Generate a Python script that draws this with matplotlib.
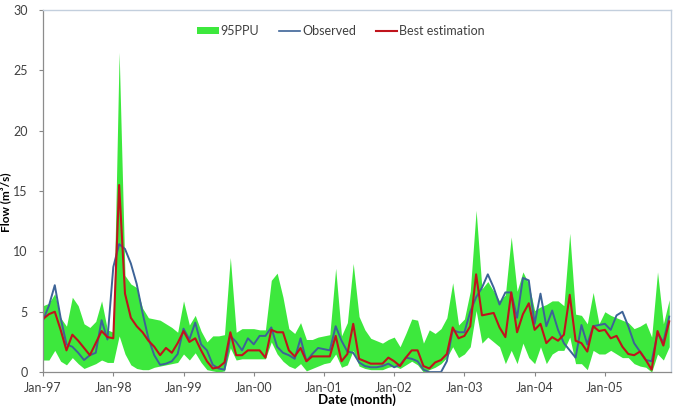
import numpy as np
import matplotlib.pyplot as plt
from matplotlib.patches import Patch
from matplotlib.lines import Line2D
plt.switch_backend('agg')

plt.rcParams['font.family'] = ['Lato', 'DejaVu Sans']

# monthly values, Jan-97 .. Dec-05
observed = [4.3, 5.5, 7.2, 4.5, 2.3, 2.1, 1.6, 1.0, 1.4, 1.6, 4.3, 2.7,
            8.7, 10.6, 10.2, 9.0, 7.3, 4.9, 2.8, 1.4, 0.6, 0.7, 0.9, 1.5,
            3.6, 2.7, 4.1, 2.3, 1.8, 0.6, 0.3, 0.2, 3.0, 2.5, 1.8, 2.8,
            2.3, 3.0, 3.0, 3.7, 2.1, 1.6, 1.4, 1.1, 2.8, 0.9, 1.5, 2.0,
            1.9, 1.8, 3.8, 2.6, 1.7, 1.6, 0.8, 0.5, 0.4, 0.4, 0.5, 0.7,
            0.4, 0.6, 1.2, 1.1, 0.9, 0.2, 0.0, 0.0, 0.0, 0.9, 3.5, 3.3,
            3.3, 5.0, 6.2, 7.0, 8.1, 7.0, 5.6, 6.6, 6.6, 4.5, 7.8, 7.6,
            4.0, 6.5, 3.8, 5.1, 3.5, 2.4, 1.8, 1.2, 3.9, 2.3, 3.8, 3.9,
            4.0, 3.5, 4.7, 5.0, 3.8, 2.4, 1.7, 1.0, 0.9, 3.2, 2.5, 4.6]

best = [4.4, 4.8, 5.0, 3.5, 1.8, 3.1, 2.6, 2.0, 1.4, 2.4, 3.4, 2.9,
        2.8, 15.5, 6.5, 4.5, 3.8, 3.3, 2.6, 2.1, 1.4, 2.0, 1.6, 2.4,
        3.4, 2.5, 2.8, 1.8, 0.9, 0.3, 0.4, 0.8, 3.3, 1.4, 1.4, 1.8,
        1.8, 1.8, 1.2, 3.5, 3.3, 3.3, 1.8, 1.3, 2.0, 0.9, 1.3, 1.3,
        1.3, 1.3, 3.0, 0.9, 1.5, 4.0, 1.1, 0.9, 0.7, 0.7, 0.7, 1.2,
        0.9, 0.5, 1.2, 1.8, 1.8, 0.5, 0.3, 0.8, 1.0, 1.5, 3.7, 2.8,
        3.0, 3.8, 8.1, 4.7, 4.8, 4.9, 3.7, 2.9, 6.6, 3.3, 4.8, 5.7,
        3.5, 4.0, 2.4, 2.9, 2.6, 3.1, 6.4, 2.6, 2.4, 1.7, 3.8, 3.4,
        3.5, 2.8, 3.0, 2.1, 1.5, 1.4, 1.7, 1.0, 0.2, 3.4, 2.2, 4.2]

ppu_upper = [5.5, 5.7, 6.5, 4.5, 3.8, 6.2, 5.5, 4.0, 3.7, 4.2, 5.9, 3.5,
             3.3, 26.5, 8.0, 7.3, 7.0, 5.3, 4.5, 4.4, 4.3, 4.0, 3.7, 3.3,
             5.9, 3.9, 4.7, 3.4, 2.5, 3.0, 3.0, 3.1, 9.5, 3.3, 3.6, 3.6,
             3.6, 3.5, 3.5, 7.6, 8.2, 6.2, 3.6, 3.2, 4.1, 2.7, 2.7, 2.9,
             3.0, 3.1, 8.6, 3.0, 4.1, 9.0, 4.6, 3.5, 2.8, 2.6, 2.4, 2.7,
             2.9, 2.1, 3.2, 4.4, 4.3, 2.4, 3.5, 3.2, 3.6, 4.5, 7.4, 3.9,
             4.4, 6.7, 13.4, 6.9, 7.5, 6.7, 5.9, 6.4, 11.2, 6.7, 8.3, 7.3,
             5.1, 5.4, 5.6, 5.9, 5.9, 5.5, 11.5, 4.8, 4.7, 4.0, 6.6, 4.0,
             5.0, 4.7, 4.5, 4.3, 4.1, 3.6, 3.8, 4.1, 2.9, 8.3, 4.0, 6.0]

ppu_lower = [1.0, 1.0, 1.8, 0.9, 0.6, 1.2, 0.7, 0.3, 0.5, 0.7, 1.0, 0.8,
             0.8, 3.0, 1.5, 0.6, 0.3, 0.2, 0.2, 0.4, 0.5, 0.6, 0.7, 0.8,
             1.5, 1.0, 1.6, 0.8, 0.2, 0.1, 0.0, 0.1, 2.0, 1.0, 1.1, 1.1,
             1.1, 1.1, 1.1, 2.5, 1.5, 0.9, 0.5, 0.3, 0.7, 0.1, 0.3, 0.5,
             0.7, 0.8, 1.5, 0.4, 0.6, 1.8, 0.5, 0.3, 0.2, 0.2, 0.2, 0.4,
             0.5, 0.3, 0.6, 0.9, 0.6, 0.0, 0.2, 0.4, 0.7, 1.2, 2.1, 1.2,
             1.5, 2.1, 5.1, 2.4, 2.9, 2.5, 2.1, 0.7, 1.8, 0.7, 2.4, 1.2,
             0.7, 2.1, 0.7, 1.5, 1.8, 1.8, 2.9, 0.7, 0.7, 0.2, 1.8, 1.5,
             1.5, 1.8, 1.5, 1.2, 1.2, 0.7, 0.5, 0.4, 0.0, 1.5, 1.0, 2.1]

year_labels = ['Jan-97', 'Jan-98', 'Jan-99', 'Jan-00', 'Jan-01',
               'Jan-02', 'Jan-03', 'Jan-04', 'Jan-05']

green = '#3de83d'
blue = '#3d6397'
red = '#c0141c'

months = np.arange(len(observed))

fig = plt.figure(figsize=(6.73, 4.08), dpi=100)
ax = fig.add_axes([0.064, 0.088, 0.933, 0.8875])

ax.fill_between(months, ppu_lower, ppu_upper, color=green, linewidth=0)
ax.plot(months, observed, color=blue, lw=1.4)
ax.plot(months, best, color=red, lw=1.5)

ax.set_xlim(0, 107.3)
ax.set_ylim(0, 30)
ax.set_yticks(range(0, 31, 5))
ax.set_xticks(np.arange(0, 97, 12))
ax.set_xticklabels(year_labels)
ax.tick_params(axis='both', labelsize=9, colors='#888888',
               labelcolor='#404040', length=3, width=0.8, direction='out')
ax.tick_params(axis='y', pad=8)
ax.tick_params(axis='x', pad=4)

for side in ['left', 'bottom']:
    ax.spines[side].set_color('#8c8c8c')
    ax.spines[side].set_linewidth(0.9)
for side in ['top', 'right']:
    ax.spines[side].set_color('#c3cfdd')
    ax.spines[side].set_linewidth(1.0)

ax.set_xlabel('Date (month)', fontsize=9.5, fontweight='bold')
ax.xaxis.set_label_coords(0.5, -0.058)
ax.set_ylabel('Flow (m\u00b3/s)', fontsize=8.5, fontweight='bold')
ax.yaxis.set_label_coords(-0.05, 0.47)

handles = [Patch(facecolor=green, edgecolor='none'),
           Line2D([], [], color=blue, lw=1.2),
           Line2D([], [], color=red, lw=1.5)]
ax.legend(handles, ['95PPU', 'Observed', 'Best estimation'], ncol=3,
          loc='center', bbox_to_anchor=(0.4745, 0.942), frameon=False,
          fontsize=9, handlelength=1.7, handleheight=0.4,
          handletextpad=0.15, columnspacing=1.6, labelcolor='#404040')

plt.savefig('out.png', dpi=100)
